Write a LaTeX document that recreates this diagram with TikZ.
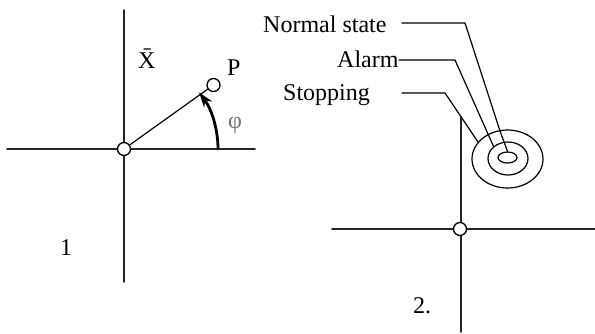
\documentclass[tikz,border=0pt]{standalone}
\usepackage{fontspec}
\setmainfont{Liberation Serif}
\usetikzlibrary{shapes.geometric,arrows.meta}
\begin{document}
\begin{tikzpicture}[x=1pt,y=-1pt,>={Stealth[length=15pt,width=10pt]},line join=round,line cap=round,
  font=\fontsize{24}{28}\selectfont,
  axis/.style={line width=1.7pt,black!85},
  lead/.style={line width=1.2pt},
  hole/.style={circle,draw,line width=1.3pt,fill=white,inner sep=0pt,minimum size=13pt},
  ring/.style={ellipse,draw,line width=1.2pt,inner sep=0pt},
  lbl/.style={inner sep=0pt,anchor=base west}]
\useasboundingbox (0,0) rectangle (595,333);
% picture 1
\coordinate (l1) at (7,149);
\coordinate (r1) at (255,149);
\coordinate (t1) at (124,10);
\coordinate (b1) at (124,282);
\draw[axis] (l1)--(r1) (t1)--(b1);
\node[hole] (O1) at (124,149) {};
\node[hole] (P) at (213.5,85) {};
\draw[lead] (O1)--(P);
\coordinate (a0) at (218,149);
\draw[->,line width=2.8pt] (a0) arc[start angle=0,end angle=-37,radius=94];
\node[lbl] (xbar) at (138,68) {\=X};
\node[lbl] (plbl) at (227,75) {P};
\node[lbl,black!55] (phi) at (228,128) {φ};
\node[lbl] (one) at (60,255) {1};
% picture 2
\coordinate (l2) at (332,229);
\coordinate (r2) at (595,229);
\coordinate (t2) at (461,117);
\coordinate (b2) at (461,332);
\draw[axis] (l2)--(r2) (t2)--(b2);
\node[hole] (O2) at (460,229) {};
\node[ring,minimum width=71pt,minimum height=58pt] (outer) at (507.5,159) {};
\node[ring,minimum width=40pt,minimum height=33pt] (middle) at (508,158.5) {};
\node[ring,minimum width=19pt,minimum height=11pt] (inner) at (507.5,157.5) {};
\node[lbl] (normal) at (263,32) {Normal state};
\node[lbl] (alarm) at (337,67) {Alarm};
\node[lbl] (stop) at (283,100) {Stopping};
\coordinate (n0) at (402,23);
\coordinate (n1) at (465,23);
\coordinate (n2) at (500,131);
\coordinate (a1) at (399,60);
\coordinate (a2) at (455,60);
\coordinate (s1) at (402,93);
\coordinate (s2) at (445,93);
\draw[lead] (n0)--(n1)--(n2)--(inner.north);
\draw[lead] (a1)--(a2)--(middle.140);
\draw[lead] (s1)--(s2)--(outer.150);
\node[lbl] (two) at (413,313) {2.};
\end{tikzpicture}
\end{document}
